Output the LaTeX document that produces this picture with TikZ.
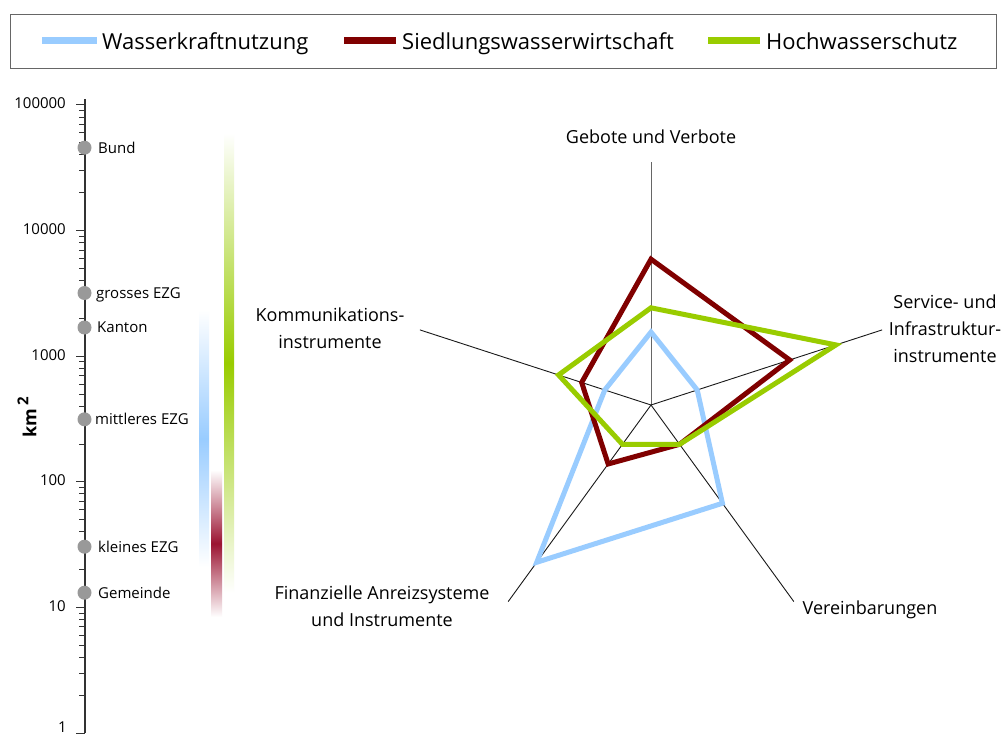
\documentclass[tikz,border=0pt]{standalone}
\usepackage{fontspec}
\setmainfont{Open Sans}
\definecolor{wblue}{HTML}{99CCFF}
\definecolor{sred}{HTML}{800000}
\definecolor{hgreen}{HTML}{99CC00}
\definecolor{barred}{HTML}{9B1432}
\definecolor{dotgray}{HTML}{999999}
\definecolor{legframe}{HTML}{666666}
\definecolor{axiscol}{HTML}{333333}
\begin{document}
\begin{tikzpicture}[x=1pt,y=-1pt,
  legtext/.style={font=\fontsize{22}{26}\selectfont, inner sep=0pt, text height=15.7pt, text depth=0pt, anchor=west},
  swatch/.style={line width=7pt},
  lbl/.style={font=\fontsize{18}{27}\selectfont, inner sep=0pt, align=center, anchor=base},
  numlbl/.style={font=\fontsize{15}{18}\selectfont, inner sep=0pt, text height=10.7pt, text depth=0pt, anchor=east},
  dotlbl/.style={font=\fontsize{15}{18}\selectfont, inner sep=0pt, text height=10.7pt, text depth=0pt, anchor=west},
  dot/.style={circle, fill=dotgray, minimum size=14pt, inner sep=0pt},
  axisline/.style={axiscol, line width=1.3pt},
  radaxis/.style={black!90, line width=0.9pt},
  series/.style={line width=5pt, line join=miter, miter limit=10}
]
\useasboundingbox (0,0) rectangle (1006,738);
\fill[white] (0,0) rectangle (1006,738);

% ---------- legend ----------
\node[draw=legframe, line width=1pt, minimum width=986pt, minimum height=54pt, inner sep=0pt, anchor=north west] (legend) at (10,14) {};
\coordinate (s1a) at (42,41); \coordinate (s1b) at (97,41);
\coordinate (s2a) at (344,41); \coordinate (s2b) at (396,41);
\coordinate (s3a) at (708,41); \coordinate (s3b) at (760,41);
\draw[swatch, wblue] (s1a) -- (s1b);
\draw[swatch, sred] (s2a) -- (s2b);
\draw[swatch, hgreen] (s3a) -- (s3b);
\node[legtext] (lt1) at (102,42) {Wasserkraftnutzung};
\node[legtext] (lt2) at (402,42) {Siedlungswasserwirtschaft};
\node[legtext] (lt3) at (766,42) {Hochwasserschutz};

% ---------- log axis ----------
\coordinate (ax0) at (85,733);
\coordinate (ax1) at (85,99);
\draw[axisline] (ax0) -- (ax1);
\foreach \d in {0,...,4} {
  \foreach \m in {2,...,9} {
    \pgfmathsetmacro{\yy}{733-125.6*(\d+log10(\m))}
    \draw[axiscol, line width=1pt] (79,\yy) -- (85,\yy);
  }
}
\foreach \d/\t in {1/10,2/100,3/1000,4/10000,5/100000} {
  \pgfmathsetmacro{\yy}{733-125.6*\d}
  \pgfmathsetmacro{\yl}{\yy-1.5}
  \draw[axiscol, line width=1pt] (76,\yy) -- (85,\yy);
  \node[numlbl] (n\d) at (66,\yl) {\t};
}
\draw[axiscol, line width=1pt] (76,733) -- (85,733);
\node[numlbl] (n0) at (67,727.5) {1};
\node[rotate=90, inner sep=0pt] (km) at (27,417) {\fontsize{18}{18}\selectfont\bfseries km\,\raisebox{8pt}{\fontsize{15}{15}\selectfont\bfseries 2}};

% dots
\node[dot] (d1) at (84.5,147.7) {};
\node[dot] (d2) at (84.5,293) {};
\node[dot] (d3) at (84.5,327.5) {};
\node[dot] (d4) at (84.5,419.3) {};
\node[dot] (d5) at (84.5,546.7) {};
\node[dot] (d6) at (84.5,592.7) {};
\node[dotlbl] (t1) at (98,147.7) {Bund};
\node[dotlbl] (t2) at (96,293) {grosses EZG};
\node[dotlbl] (t3) at (97,327.5) {Kanton};
\node[dotlbl] (t4) at (95,419.3) {mittleres EZG};
\node[dotlbl] (t5) at (98,546.7) {kleines EZG};
\node[dotlbl] (t6) at (98,592.7) {Gemeinde};

% gradient bars
\shade[top color=white, bottom color=white, middle color=wblue] (199,310) rectangle (209,567);
\shade[top color=white, bottom color=white, middle color=barred] (211,470) rectangle (222,617);
\shade[top color=white, bottom color=white, middle color=hgreen] (224,133) rectangle (234,593);

% ---------- radar ----------
\coordinate (C) at (651,405);
\path (C) ++(-90:243) coordinate (A1);
\path (C) ++(-18:243) coordinate (A2);
\path (C) ++(54:243) coordinate (A3);
\path (C) ++(126:243) coordinate (A4);
\path (C) ++(198:243) coordinate (A5);
\draw[black!60, line width=1pt] (C) -- (A1);
\draw[radaxis] (C) -- (A2);
\draw[radaxis] (C) -- (A3);
\draw[radaxis] (C) -- (A4);
\draw[radaxis] (C) -- (A5);

\def\u{48.6}
% Wasserkraftnutzung
\path (C) ++(-90:{1.5*\u}) coordinate (b1);
\path (C) ++(-18:{1*\u}) coordinate (b2);
\path (C) ++(54:{2.5*\u}) coordinate (b3);
\path (C) ++(126:{4*\u}) coordinate (b4);
\path (C) ++(198:{1*\u}) coordinate (b5);
% Siedlungswasserwirtschaft
\path (C) ++(-90:{3*\u}) coordinate (r1);
\path (C) ++(-18:{3*\u}) coordinate (r2);
\path (C) ++(54:{1*\u}) coordinate (r3);
\path (C) ++(126:{1.5*\u}) coordinate (r4);
\path (C) ++(198:{1.5*\u}) coordinate (r5);
% Hochwasserschutz
\path (C) ++(-90:{2*\u}) coordinate (g1);
\path (C) ++(-18:{4*\u}) coordinate (g2);
\path (C) ++(54:{1*\u}) coordinate (g3);
\path (C) ++(126:{1*\u}) coordinate (g4);
\path (C) ++(198:{2*\u}) coordinate (g5);

\draw[series, wblue] (b1) -- (b2) -- (b3) -- (b4) -- (b5) -- cycle;
\draw[series, sred] (r1) -- (r2) -- (r3) -- (r4) -- (r5) -- cycle;
\draw[series, hgreen] (g1) -- (g2) -- (g3) -- (g4) -- (g5) -- cycle;

\node[lbl] (L1) at (651,144) {Gebote und Verbote};
\node[lbl] (L2) at (945,362) {Service- und\\Infrastruktur-\\instrumente};
\node[lbl] (L3) at (870,614) {Vereinbarungen};
\node[lbl] (L4) at (382,626) {Finanzielle Anreizsysteme\\und Instrumente};
\node[lbl] (L5) at (330,348) {Kommunikations-\\instrumente};
\end{tikzpicture}
\end{document}
